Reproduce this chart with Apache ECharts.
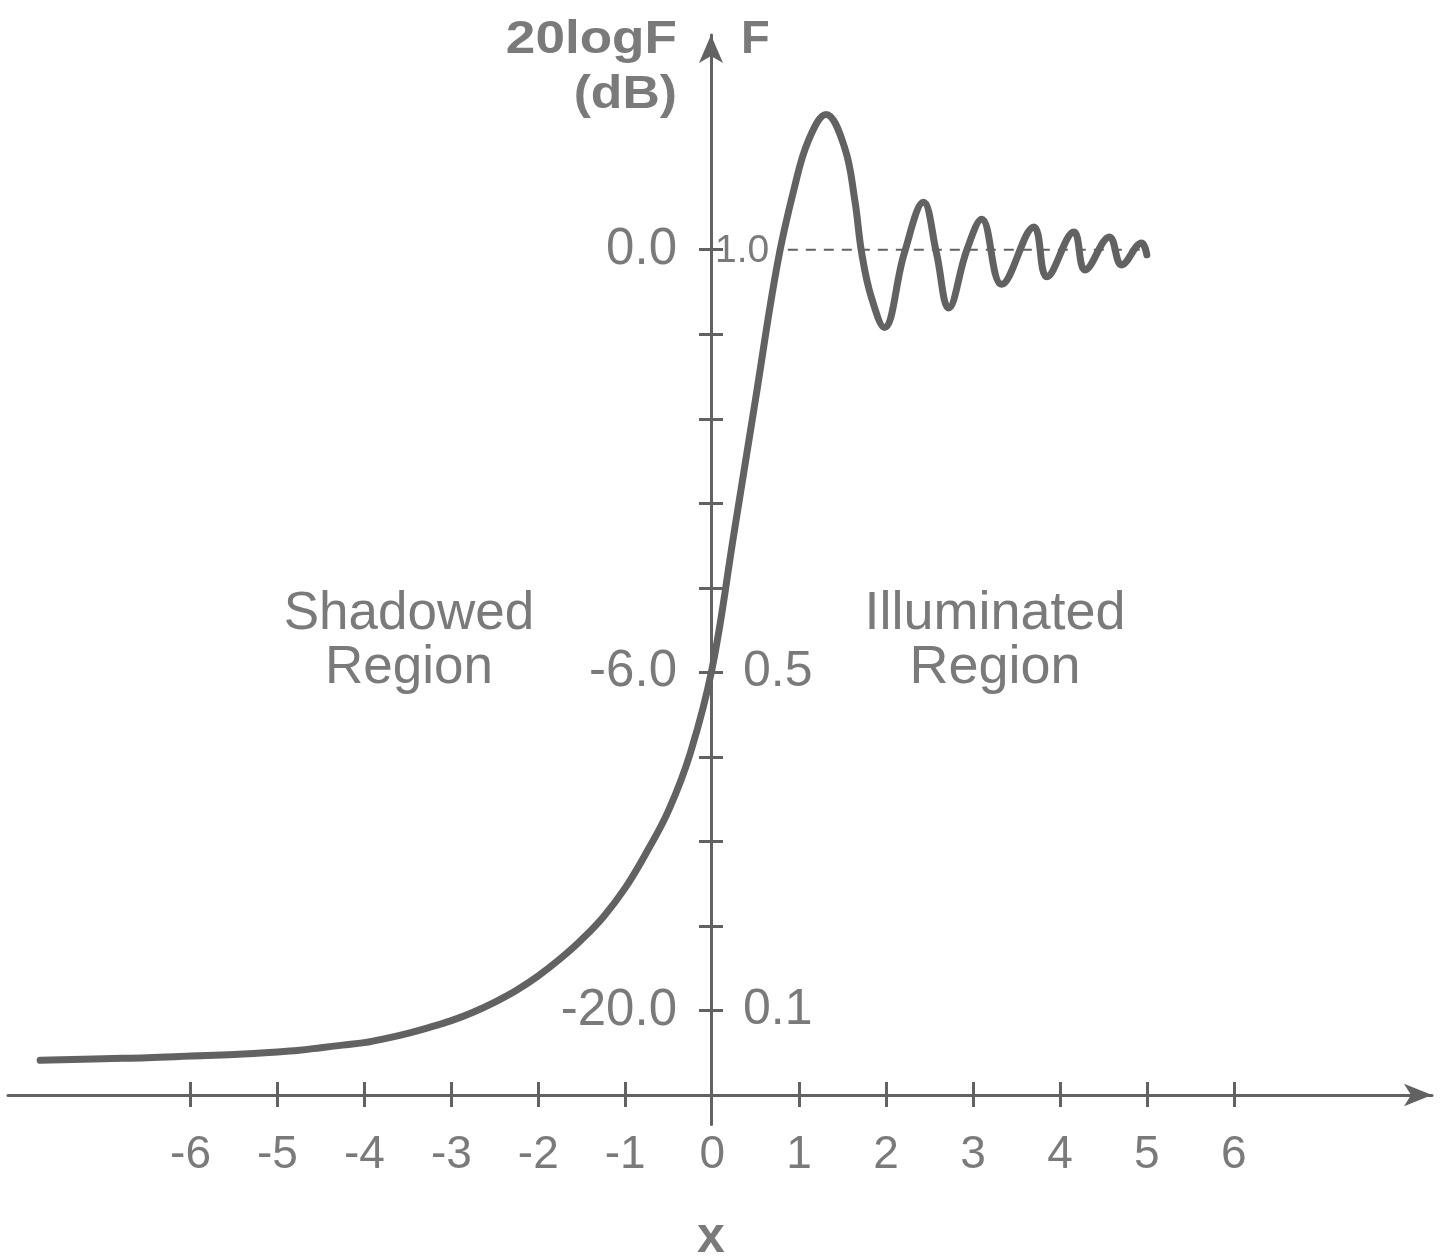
<!DOCTYPE html>
<html>
<head>
<meta charset="utf-8">
<script src="https://cdn.jsdelivr.net/npm/echarts@6/dist/echarts.min.js"></script>
<style>
  html, body { margin: 0; padding: 0; background: #fff; }
  #chart { width: 1444px; height: 1260px; }
</style>
</head>
<body>
<div id="chart"></div>
<script>
// knife-edge curve (x, F)
const curveX = [-7.73, -7.0, -6.5, -6.0, -5.5, -5.0, -4.75, -4.5, -4.25, -4.0,
  -3.75, -3.5, -3.25, -3.0, -2.75, -2.5, -2.25, -2.0, -1.75, -1.5,
  -1.25, -1.0, -0.75, -0.5, -0.25, 0.0, 0.25, 0.5, 0.75, 0.94,
  1.11, 1.31, 1.52, 1.64, 1.72, 1.83, 1.98, 2.21, 2.43, 2.58,
  2.72, 2.93, 3.10, 3.33, 3.70, 3.85, 4.16, 4.29, 4.57, 4.71,
  4.94, 5.00]
const curveF = [0.041, 0.043, 0.044, 0.046, 0.048, 0.051, 0.053, 0.056, 0.059, 0.062,
  0.067, 0.073, 0.080, 0.088, 0.098, 0.110, 0.124, 0.141, 0.161, 0.184,
  0.211, 0.245, 0.288, 0.337, 0.405, 0.505, 0.664, 0.824, 0.983, 1.071,
  1.130, 1.160, 1.122, 1.059, 0.996, 0.944, 0.908, 0.996, 1.056, 0.996,
  0.931, 1.000, 1.036, 0.959, 1.027, 0.968, 1.021, 0.976, 1.015, 0.982,
  1.008, 0.994]

// dashed reference at F = 1
const refX = [0.87, 5.0]
const refF = [1.0, 1.0]

const xTicks = [-6, -5, -4, -3, -2, -1, 1, 2, 3, 4, 5, 6]
const xLabels = [-6, -5, -4, -3, -2, -1, 0, 1, 2, 3, 4, 5, 6]
const fTicks = [0.1, 0.2, 0.3, 0.4, 0.5, 0.6, 0.7, 0.8, 0.9, 1.0]
const fLabelValues = [0.1, 0.5, 1.0]
const dbLabels = ['-20.0', '-6.0', '0.0']
const fLabels = ['0.1', '0.5', '1.0']

const INK = '#626262'
const TEXT = '#7a7a7a'
const FONT = '"Liberation Sans", Arial, Helvetica, sans-serif'

const chart = echarts.init(document.getElementById('chart'))

function labelIndex(v) {
  return fLabelValues.findIndex(a => Math.abs(a - Number(v)) < 1e-6)
}

// grid 0: curve + x axis (its bottom edge is F = 0)
// grid 1: a thin strip starting at x = 0, carrying the vertical axis and its labels
const option = {
  backgroundColor: '#fff',
  animation: false,
  grid: [
    { left: 8, right: 12, top: 35, bottom: 165, containLabel: false, outerBoundsMode: 'none' },
    { left: 711, width: 40, top: 35, bottom: 135.4, containLabel: false, outerBoundsMode: 'none' }
  ],
  xAxis: [
    {
      gridIndex: 0, type: 'value', min: -8.1, max: 8.28, position: 'bottom',
      axisLine: { onZero: false, symbol: ['none', 'arrow'], symbolSize: [17, 28], lineStyle: { color: INK, width: 3 } },
      axisTick: { show: true, inside: false, length: 12, customValues: xTicks, lineStyle: { color: INK, width: 3 } },
      axisLabel: { customValues: xLabels, margin: 37, fontSize: 46, color: TEXT, fontFamily: FONT },
      splitLine: { show: false }
    },
    {
      gridIndex: 0, type: 'value', min: -8.1, max: 8.28, position: 'bottom',
      axisLine: { show: false, onZero: false },
      axisTick: { show: true, inside: true, length: 13, customValues: xTicks, lineStyle: { color: INK, width: 3 } },
      axisLabel: { show: false },
      splitLine: { show: false }
    },
    {
      gridIndex: 1, type: 'value', min: 0, max: 1, show: false
    }
  ],
  yAxis: [
    {
      gridIndex: 0, type: 'value', min: 0, max: 1.254, show: false
    },
    {
      gridIndex: 1, type: 'value', min: -0.035, max: 1.254, position: 'left',
      axisLine: { onZero: false, symbol: ['none', 'arrow'], symbolSize: [18, 28], lineStyle: { color: INK, width: 3 } },
      axisTick: { show: true, inside: false, length: 12, customValues: fTicks, lineStyle: { color: INK, width: 3 } },
      axisLabel: {
        customValues: fLabelValues, margin: 34, fontSize: 51, color: TEXT, fontFamily: FONT,
        formatter: v => dbLabels[labelIndex(v)] || ''
      },
      splitLine: { show: false }
    },
    {
      gridIndex: 1, type: 'value', min: -0.035, max: 1.254, position: 'left',
      axisLine: { show: false, onZero: false },
      axisTick: { show: true, inside: true, length: 12, customValues: fTicks, lineStyle: { color: INK, width: 3 } },
      axisLabel: {
        inside: true, customValues: fLabelValues, margin: 4, color: TEXT, fontFamily: FONT,
        formatter: v => {
          const i = labelIndex(v)
          return i === 2 ? '{s|' + fLabels[i] + '}' : '{b|' + fLabels[i] + '}'
        },
        rich: {
          s: { fontSize: 39, color: TEXT, fontFamily: FONT, padding: [4, 0, 0, 0] },
          b: { fontSize: 50, color: TEXT, fontFamily: FONT, padding: [0, 0, 0, 28] }
        }
      },
      splitLine: { show: false }
    }
  ],
  series: [
    {
      type: 'line', xAxisIndex: 0, yAxisIndex: 0,
      data: refX.map((x, i) => [x, refF[i]]),
      showSymbol: false,
      lineStyle: { color: INK, width: 2, type: [10, 8] },
      silent: true
    },
    {
      type: 'line', xAxisIndex: 0, yAxisIndex: 0,
      data: curveX.map((x, i) => [x, curveF[i]]),
      showSymbol: false,
      smooth: 0.4,
      lineStyle: { color: INK, width: 7, cap: 'round', join: 'round' },
      silent: true
    }
  ],
  graphic: [
    { type: 'text', x: 677, y: 40, scaleX: 1.13, style: { text: '20logF', font: 'bold 47px ' + FONT, fill: TEXT, textAlign: 'right', textVerticalAlign: 'middle' } },
    { type: 'text', x: 677, y: 95, scaleX: 1.1, style: { text: '(dB)', font: 'bold 47px ' + FONT, fill: TEXT, textAlign: 'right', textVerticalAlign: 'middle' } },
    { type: 'text', x: 741, y: 40, style: { text: 'F', font: 'bold 47px ' + FONT, fill: TEXT, textAlign: 'left', textVerticalAlign: 'middle' } },
    { type: 'text', x: 711, y: 1238, style: { text: 'x', font: 'bold 50px ' + FONT, fill: TEXT, textAlign: 'center', textVerticalAlign: 'middle' } },
    { type: 'text', x: 409, y: 641, style: { text: 'Shadowed\nRegion', font: '53px ' + FONT, lineHeight: 54, fill: TEXT, textAlign: 'center', textVerticalAlign: 'middle' } },
    { type: 'text', x: 995, y: 641, style: { text: 'Illuminated\nRegion', font: '54px ' + FONT, lineHeight: 54, fill: TEXT, textAlign: 'center', textVerticalAlign: 'middle' } }
  ]
}

chart.setOption(option)
</script>
</body>
</html>
